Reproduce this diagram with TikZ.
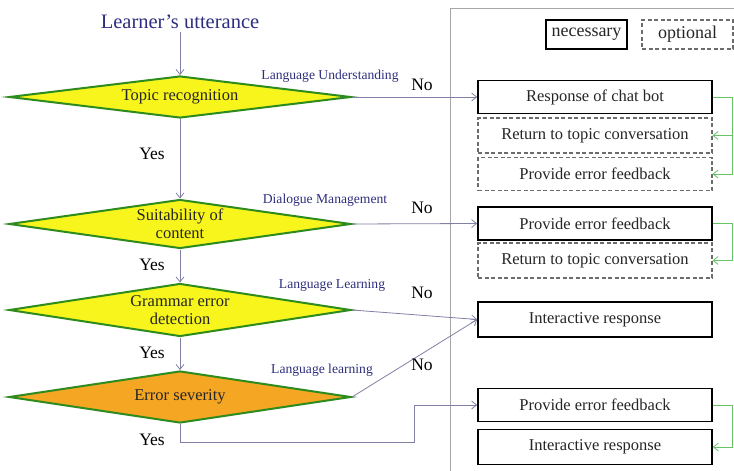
\documentclass[tikz,border=0pt]{standalone}
\usepackage{fontspec}
\setmainfont{Liberation Serif}
\usepackage{tikz}
\usetikzlibrary{arrows.meta,shapes.geometric,calc}
\definecolor{dgreen}{HTML}{2E8B1E}
\definecolor{dyellow}{HTML}{F7F51C}
\definecolor{dorange}{HTML}{F5A623}
\definecolor{linkgrey}{HTML}{8080A4}
\definecolor{textblue}{HTML}{2E2E7E}
\definecolor{backgreen}{HTML}{66C466}

\begin{document}
\begin{tikzpicture}[x=1pt,y=-1pt,
    decision/.style={diamond,draw=dgreen,line width=2pt,fill=dyellow,
      minimum width=342pt,inner sep=0pt},
    every label/.style={align=center,text=black!85,font=\fontsize{16.5}{18}\selectfont},
    resp/.style={draw,line width=1.6pt,minimum width=234pt,minimum height=33pt,
      text=black!85,font=\fontsize{16.5}{17}\selectfont},
    optresp/.style={resp,draw=gray!85!black,line width=1.1pt,dash pattern=on 4pt off 2.5pt},
    link/.style={linkgrey,line width=0.8pt,-{Straight Barb[length=5pt,width=8pt]}},
    back/.style={backgreen,line width=0.8pt,-{Straight Barb[length=5pt,width=8pt]}},
    answer/.style={font=\fontsize{17.5}{18}\selectfont},
    layer/.style={textblue,font=\fontsize{13.6}{14}\selectfont}]
  \useasboundingbox (0,0) rectangle (734,471);
  % right panel with the responses
  \draw[gray!70,line width=1pt] (450,8) rectangle (745,485);
  \node[resp,minimum width=81pt,minimum height=29pt,font=\fontsize{18}{19}\selectfont] (nec) at (586.5,34.5) {necessary};
  \node[optresp,minimum width=91pt,minimum height=29pt,font=\fontsize{18}{19}\selectfont] (opt) at (687.5,34.5) {optional};
  \node[resp] (chat) at (595,97) {Response of chat bot};
  \node[optresp,minimum height=35pt] (ret1) at (595,135.5) {Return to topic conversation};
  \node[optresp] (fb1) at (595,174) {Provide error feedback};
  \node[resp] (fb2) at (595,223.5) {Provide error feedback};
  \node[optresp,minimum height=35pt] (ret2) at (595,260.5) {Return to topic conversation};
  \node[resp,minimum height=35pt] (inter1) at (595,319.5) {Interactive response};
  \node[resp] (fb3) at (595,405) {Provide error feedback};
  \node[resp,minimum height=35pt] (inter2) at (595,447) {Interactive response};
  % decisions
  \node[textblue,font=\fontsize{20.5}{21}\selectfont] (utt) at (180,22) {Learner's utterance};
  \node[decision,minimum height=42pt,label=center:{Topic recognition}] (topic) at (180,97) {};
  \node[decision,minimum height=49pt,label={center:Suitability of\\content}] (suit) at (180,224) {};
  \node[decision,minimum height=53pt,label={center:Grammar error\\detection}] (gram) at (180,310) {};
  \node[decision,fill=dorange,minimum height=52pt,label=center:{Error severity}] (sev) at (180,397) {};
  \coordinate (bend) at (414,442);
  \draw[link] (utt.south) -- (topic.north);
  \draw[link] (topic.south) -- (suit.north);
  \draw[link] (suit.south) -- (gram.north);
  \draw[link] (gram.south) -- (sev.north);
  \draw[link] (topic.east) -- (chat.west);
  \draw[link] (suit.east) -- (fb2.west);
  \draw[link] (gram.east) -- (inter1.west);
  \draw[link] (sev.east) -- (inter1.west);
  \draw[link] (sev.south) |- (bend) |- (fb3.west);
  \draw[back] (chat.east) -- ++(20,0) |- (ret1.east);
  \draw[back] (chat.east) -- ++(20,0) |- (fb1.east);
  \draw[back] (fb2.east) -- ++(20,0) |- (ret2.east);
  \draw[back] (fb3.east) -- ++(20,0) |- (inter2.east);
  % labels
  \foreach \y/\nm in {154/y1,265/y2,353/y3,440/y4}{\node[answer] (\nm) at (152,\y) {Yes};}
  \foreach \y/\nm in {85/n1,208/n2,293/n3,365/n4}{\node[answer] (\nm) at (422,\y) {No};}
  \node[layer] (lu) at (330,76) {Language Understanding};
  \node[layer] (dm) at (325,200) {Dialogue Management};
  \node[layer] (ll1) at (332,285) {Language Learning};
  \node[layer] (ll2) at (322,370) {Language learning};
\end{tikzpicture}
\end{document}
